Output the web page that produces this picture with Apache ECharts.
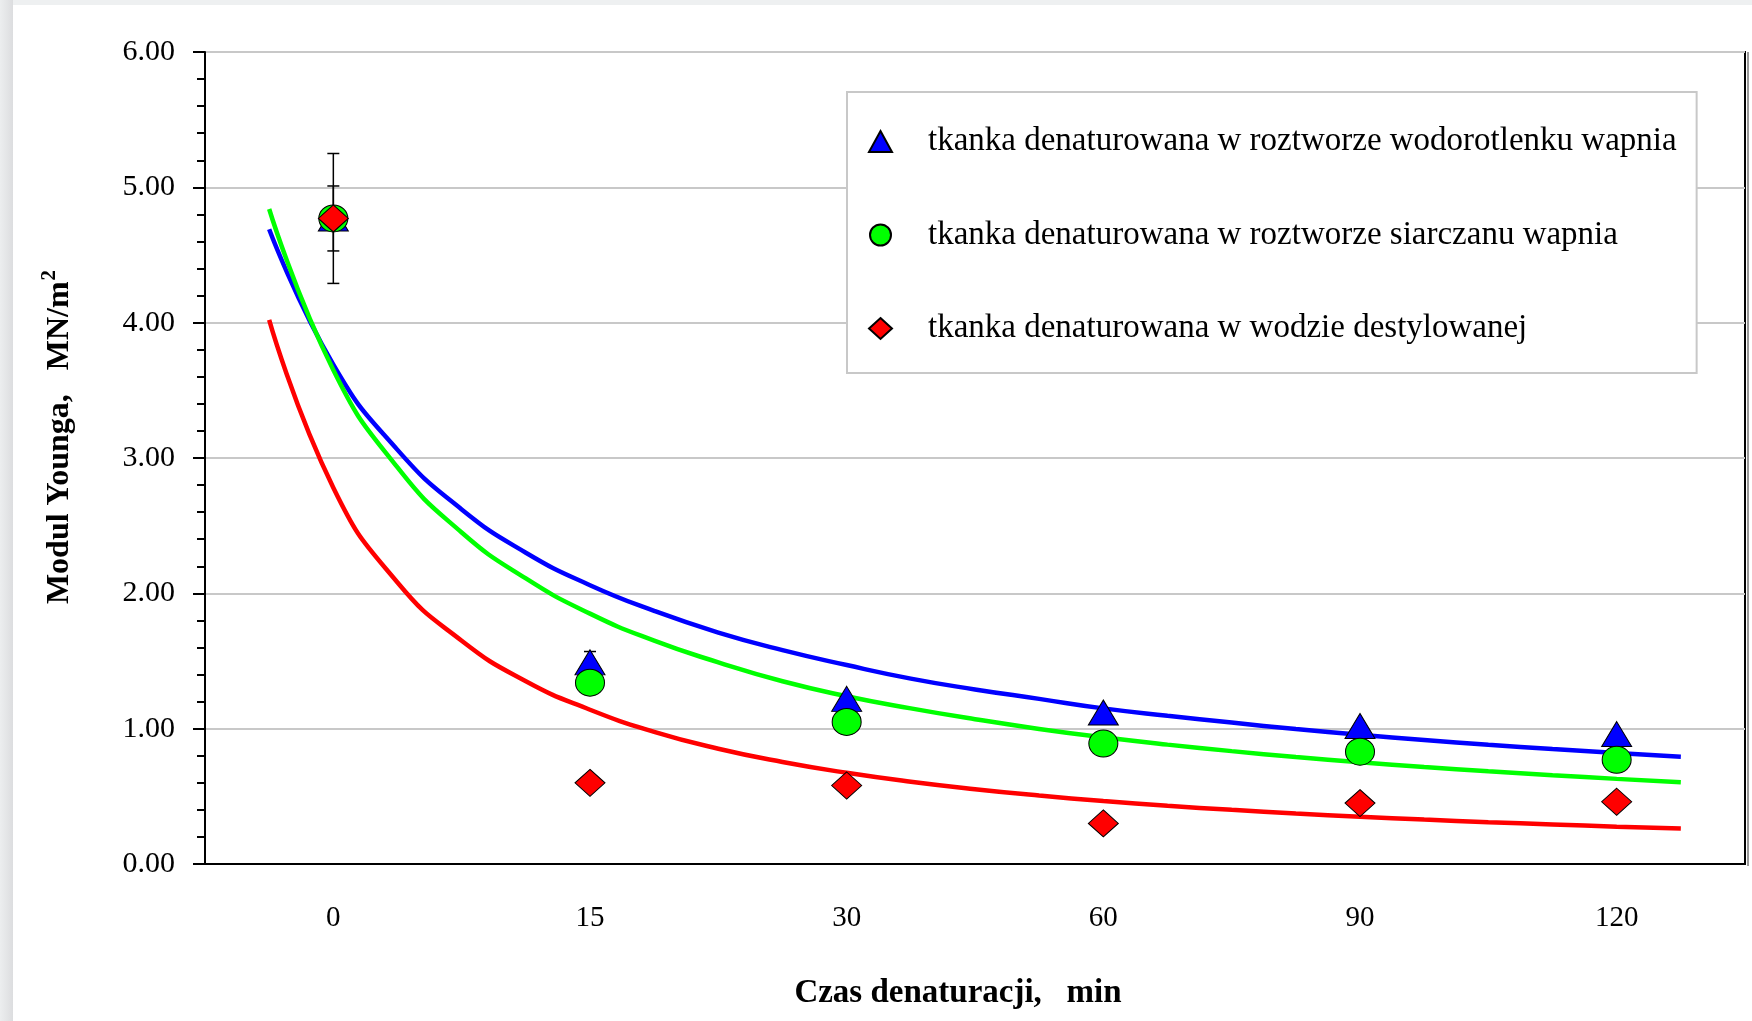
<!DOCTYPE html>
<html>
<head>
<meta charset="utf-8">
<script src="https://cdn.jsdelivr.net/npm/echarts@6/dist/echarts.min.js"></script>
<style>
  html, body { margin: 0; padding: 0; background: #fff; }
  #chart { width: 1752px; height: 1021px; }
</style>
</head>
<body>
<div id="chart"></div>
<script>
// czas denaturacji (min)
const categories = ['0', '15', '30', '60', '90', '120'];

// modul Younga, MN/m2
const wodorotlenek = [4.77, 1.49, 1.22, 1.12, 1.02, 0.96];
const siarczan = [4.77, 1.34, 1.05, 0.89, 0.83, 0.77];
const woda = [4.77, 0.60, 0.58, 0.30, 0.45, 0.46];

// odchylenia (error bars)
const errWodorotlenek = [0.48, 0.08, 0, 0, 0, 0];
const errSiarczan = [0.24, 0, 0, 0, 0, 0];

// linie trendu, x = indeks kategorii
const trendX = [-0.25, 0, 0.25, 0.5, 0.75, 1, 1.25, 1.5, 1.75, 2, 2.25, 2.5, 2.75, 3, 3.25, 3.5, 3.75, 4, 4.25, 4.5, 4.75, 5, 5.25];
const trendWodorotlenek = [4.69, 3.69, 3.06, 2.62, 2.30, 2.06, 1.87, 1.71, 1.58, 1.47, 1.37, 1.29, 1.22, 1.15, 1.095, 1.045, 0.997, 0.955, 0.917, 0.881, 0.849, 0.820, 0.792];
const trendSiarczan = [4.84, 3.65, 2.93, 2.45, 2.11, 1.85, 1.65, 1.49, 1.35, 1.24, 1.15, 1.07, 0.998, 0.936, 0.882, 0.834, 0.791, 0.752, 0.717, 0.685, 0.656, 0.629, 0.604];
const trendWoda = [4.02, 2.78, 2.08, 1.65, 1.35, 1.14, 0.977, 0.852, 0.754, 0.674, 0.608, 0.553, 0.506, 0.465, 0.430, 0.400, 0.373, 0.349, 0.328, 0.309, 0.292, 0.276, 0.262];

const names = [
  'tkanka denaturowana w roztworze wodorotlenku wapnia',
  'tkanka denaturowana w roztworze siarczanu wapnia',
  'tkanka denaturowana w wodzie destylowanej'
];

const FONT = 'Liberation Serif';

function pairs(xs, ys) {
  return xs.map((x, i) => [x, ys[i]]);
}

function errData(vals, errs) {
  const out = [];
  vals.forEach((v, i) => {
    if (errs[i] > 0) out.push([i, v - errs[i], v + errs[i]]);
  });
  return out;
}

function renderErr(params, api) {
  const x = api.value(0);
  const lo = api.coord([x, api.value(1)]);
  const hi = api.coord([x, api.value(2)]);
  const w = 6;
  const st = { stroke: '#000', lineWidth: 1.5 };
  return {
    type: 'group',
    children: [
      { type: 'line', shape: { x1: lo[0], y1: lo[1], x2: hi[0], y2: hi[1] }, style: st },
      { type: 'line', shape: { x1: lo[0] - w, y1: lo[1], x2: lo[0] + w, y2: lo[1] }, style: st },
      { type: 'line', shape: { x1: hi[0] - w, y1: hi[1], x2: hi[0] + w, y2: hi[1] }, style: st }
    ]
  };
}

function trendSeries(data, color) {
  return {
    type: 'line', xAxisIndex: 2, data: pairs(trendX, data),
    smooth: true, showSymbol: false, z: 2, silent: true,
    lineStyle: { color: color, width: 4.5 }
  };
}

const chart = echarts.init(document.getElementById('chart'));

chart.setOption({
  backgroundColor: '#fff',
  animation: false,
  textStyle: { fontFamily: FONT, color: '#000' },
  graphic: [
    { type: 'rect', left: 0, top: 0, shape: { width: 1752, height: 5 }, style: { fill: '#eef0f1' } },
    {
      type: 'rect', left: 0, top: 0, shape: { width: 13, height: 1021 },
      style: {
        fill: new echarts.graphic.LinearGradient(0, 0, 1, 0, [
          { offset: 0, color: '#eceeef' },
          { offset: 1, color: '#dcdddf' }
        ])
      }
    },
    // cien prawej krawedzi
    { type: 'line', shape: { x1: 1748, y1: 52, x2: 1748, y2: 866 }, style: { stroke: '#999', lineWidth: 2 } }
  ],
  grid: {
    left: 205,
    top: 52,
    right: 7,
    bottom: 157,
    show: true,
    borderColor: '#000',
    borderWidth: 2
  },
  legend: {
    orient: 'vertical',
    left: 847,
    top: 92,
    data: names,
    itemWidth: 23,
    itemHeight: 21,
    itemGap: 60.5,
    padding: [33, 20, 28, 21],
    borderColor: '#c8c8c8',
    borderWidth: 2,
    backgroundColor: '#fff',
    selectedMode: false,
    textStyle: {
      fontFamily: FONT,
      fontSize: 33,
      color: '#000',
      padding: [0, 0, 0, 31]
    }
  },
  xAxis: [
    {
      type: 'category',
      data: categories,
      boundaryGap: true,
      name: 'Czas denaturacji,   min',
      nameLocation: 'middle',
      nameGap: 113,
      nameTextStyle: { fontFamily: FONT, fontSize: 33, fontWeight: 'bold', color: '#000', padding: [0, 34, 0, 0] },
      axisLine: { lineStyle: { color: '#000', width: 2 } },
      axisTick: { length: 11, lineStyle: { color: '#000', width: 2 } },
      axisLabel: { fontFamily: FONT, fontSize: 29, color: '#000', margin: 40 },
      splitLine: { show: false }
    },
    {
      type: 'category',
      data: categories,
      position: 'bottom',
      axisLine: { show: false },
      axisTick: { alignWithLabel: true, length: 8, lineStyle: { color: '#000', width: 2 } },
      axisLabel: { show: false },
      splitLine: { show: false }
    },
    {
      type: 'value',
      min: -0.5,
      max: 5.5,
      show: false
    }
  ],
  yAxis: {
    type: 'value',
    min: 0,
    max: 6,
    interval: 1,
    name: '{a|Modul Younga,   MN/m}{s|2}',
    nameLocation: 'middle',
    nameGap: 127,
    nameTextStyle: {
      padding: [0, 0, 0, 42],
      rich: {
        a: { fontFamily: FONT, fontSize: 32, fontWeight: 'bold', color: '#000', lineHeight: 36 },
        s: { fontFamily: FONT, fontSize: 21, fontWeight: 'bold', color: '#000', lineHeight: 36, padding: [0, 0, 20, 1] }
      }
    },
    axisLine: { show: true, onZero: false, lineStyle: { color: '#000', width: 2 } },
    axisTick: { show: true, length: 12, lineStyle: { color: '#000', width: 2 } },
    minorTick: { show: true, splitNumber: 5, length: 8, lineStyle: { color: '#000', width: 2 } },
    axisLabel: {
      fontFamily: FONT,
      fontSize: 30,
      color: '#000',
      margin: 30,
      formatter: v => v.toFixed(2)
    },
    splitLine: { lineStyle: { color: '#c8c8c8', width: 2 } }
  },
  series: [
    trendSeries(trendWodorotlenek, '#0000ff'),
    trendSeries(trendSiarczan, '#00ff00'),
    trendSeries(trendWoda, '#ff0000'),
    {
      type: 'custom', xAxisIndex: 0, renderItem: renderErr, z: 3, silent: true,
      data: errData(wodorotlenek, errWodorotlenek)
    },
    {
      type: 'custom', xAxisIndex: 0, renderItem: renderErr, z: 3, silent: true,
      data: errData(siarczan, errSiarczan)
    },
    {
      name: names[0], type: 'scatter', xAxisIndex: 0, data: wodorotlenek, z: 4,
      symbol: 'triangle', symbolSize: [30, 25],
      itemStyle: { color: '#0000ff', borderColor: '#000', borderWidth: 1, opacity: 1 }
    },
    {
      name: names[1], type: 'scatter', xAxisIndex: 0, data: siarczan, z: 4,
      symbol: 'circle', symbolSize: [29, 27],
      itemStyle: { color: '#00ff00', borderColor: '#000', borderWidth: 1, opacity: 1 }
    },
    {
      name: names[2], type: 'scatter', xAxisIndex: 0, data: woda, z: 4,
      symbol: 'diamond', symbolSize: [30, 27],
      itemStyle: { color: '#ff0000', borderColor: '#000', borderWidth: 1, opacity: 1 }
    }
  ]
});
</script>
</body>
</html>
